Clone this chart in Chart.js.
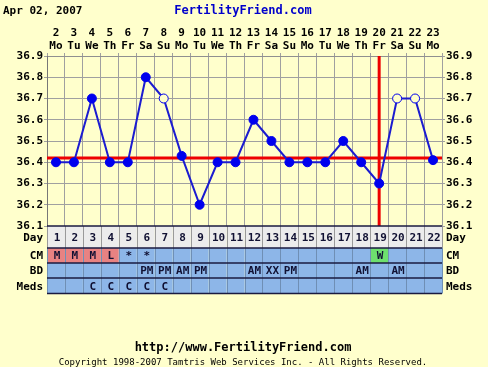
<!DOCTYPE html>
<html>
<head>
<meta charset="utf-8">
<script src="https://cdn.jsdelivr.net/npm/chart.js@4/dist/chart.umd.min.js"></script>
<style>
  html, body { margin: 0; padding: 0; background: #ffffcc; }
  canvas { display: block; }
</style>
</head>
<body>
<canvas id="chart" width="488" height="367"></canvas>
<script>
// chart data
const dates = ["2", "3", "4", "5", "6", "7", "8", "9", "10", "11", "12", "13", "14", "15", "16", "17", "18", "19", "20", "21", "22", "23"];
const weekdays = ["Mo", "Tu", "We", "Th", "Fr", "Sa", "Su", "Mo", "Tu", "We", "Th", "Fr", "Sa", "Su", "Mo", "Tu", "We", "Th", "Fr", "Sa", "Su", "Mo"];
const temps = [36.4, 36.4, 36.7, 36.4, 36.4, 36.8, 36.7, 36.43, 36.2, 36.4, 36.4, 36.6, 36.5, 36.4, 36.4, 36.4, 36.5, 36.4, 36.3, 36.7, 36.7, 36.41];
const openDays = [7, 20, 21];
const coverline = 36.42;
const ovulationDay = 19;
const cm = ["M", "M", "M", "L", "*", "*", "", "", "", "", "", "", "", "", "", "", "", "", "W", "", "", ""];
const bd = ["", "", "", "", "", "PM", "PM", "AM", "PM", "", "", "AM", "XX", "PM", "", "", "", "AM", "", "AM", "", ""];
const meds = ["", "", "C", "C", "C", "C", "C", "", "", "", "", "", "", "", "", "", "", "", "", "", "", ""];

const BG = "#ffffcc";
const FONT = "'DejaVu Sans Mono', monospace";

Chart.defaults.font.family = FONT;
Chart.defaults.font.size = 11;
Chart.defaults.font.weight = "bold";
Chart.defaults.color = "#000";

// background, header, table and footer
const decorations = {
  id: "decorations",
  beforeDraw(chart) {
    const ctx = chart.ctx;
    ctx.save();
    ctx.fillStyle = BG;
    ctx.fillRect(0, 0, chart.width, chart.height);
    ctx.restore();
  },
  afterDraw(chart) {
    const ctx = chart.ctx;
    const x = chart.scales.x;
    const area = chart.chartArea;
    const n = dates.length;
    const colW = (area.right - area.left) / n;
    const rows = [
      { label: "Day", h: 22 },
      { label: "CM", h: 15 },
      { label: "BD", h: 15 },
      { label: "Meds", h: 15.5 },
    ];

    ctx.save();
    ctx.font = "bold 11px " + FONT;
    ctx.textBaseline = "middle";

    // header
    ctx.fillStyle = "#000";
    ctx.textAlign = "left";
    ctx.fillText("Apr 02, 2007", 3, 11);
    ctx.fillStyle = "#0000cc";
    ctx.textAlign = "center";
    ctx.font = "bold 12px " + FONT;
    ctx.fillText("FertilityFriend.com", 243, 11);

    // table
    ctx.font = "bold 11px " + FONT;
    let top = area.bottom;
    rows.forEach((row, r) => {
      const cy = top + row.h / 2;
      for (let i = 0; i < n; i++) {
        const left = area.left + i * colW;
        let fill = r === 0 ? "#ececec" : "#8db6e8";
        if (r === 1 && (cm[i] === "M" || cm[i] === "L")) fill = "#e88282";
        if (r === 1 && cm[i] === "W") fill = "#6ee06e";
        ctx.fillStyle = fill;
        ctx.fillRect(left, top, colW, row.h);
      }
      // column lines
      ctx.strokeStyle = r === 0 ? "#9a9a9a" : "#6f8fb5";
      ctx.lineWidth = 1;
      for (let i = 0; i <= n; i++) {
        const lx = Math.round(area.left + i * colW) + 0.5;
        ctx.beginPath();
        ctx.moveTo(lx, top);
        ctx.lineTo(lx, top + row.h);
        ctx.stroke();
      }
      // cell text
      ctx.fillStyle = "#111133";
      ctx.textAlign = "center";
      for (let i = 0; i < n; i++) {
        const cx = x.getPixelForValue(i) + 1;
        const txt = r === 0 ? String(i + 1) : r === 1 ? cm[i] : r === 2 ? bd[i] : meds[i];
        if (txt) ctx.fillText(txt, cx, cy + 1);
      }
      // row labels
      ctx.fillStyle = "#000";
      ctx.textAlign = "right";
      ctx.fillText(row.label, area.left - 4, cy + 1);
      ctx.textAlign = "left";
      ctx.fillText(row.label, area.right + 4, cy + 1);
      top += row.h;
    });
    // row lines
    ctx.strokeStyle = "#1a1a40";
    ctx.lineWidth = 1.5;
    let ly = area.bottom;
    [0].concat(rows.map((r) => r.h)).forEach((h) => {
      ly += h;
      ctx.beginPath();
      ctx.moveTo(area.left, ly);
      ctx.lineTo(area.right, ly);
      ctx.stroke();
    });

    // footer
    ctx.fillStyle = "#000";
    ctx.textAlign = "center";
    ctx.font = "bold 12px " + FONT;
    ctx.fillText("http://www.FertilityFriend.com", 243, 348);
    ctx.font = "9px " + FONT;
    ctx.fillText("Copyright 1998-2007 Tamtris Web Services Inc. - All Rights Reserved.", 243, 363);
    ctx.restore();
  },
};

const yTicks = {
  stepSize: 0.1,
  padding: 1,
  callback: (v) => Number(v).toFixed(1),
};

new Chart(document.getElementById("chart"), {
  type: "line",
  data: {
    labels: dates,
    datasets: [
      {
        data: temps,
        borderColor: "#1c1cd0",
        borderWidth: 2,
        pointRadius: 4.5,
        pointBorderWidth: 1,
        pointBorderColor: "#0000ee",
        pointBackgroundColor: temps.map((t, i) => (openDays.includes(i + 1) ? BG : "#0000ee")),
        tension: 0,
        order: 0,
      },
      {
        data: [
          { x: 0.5, y: coverline },
          { x: dates.length + 0.5, y: coverline },
        ],
        xAxisID: "xl",
        borderColor: "#ee0000",
        borderWidth: 3,
        pointRadius: 0,
        order: 1,
      },
      {
        data: [
          { x: ovulationDay, y: 36.1 },
          { x: ovulationDay, y: 36.9 },
        ],
        xAxisID: "xl",
        borderColor: "#ee0000",
        borderWidth: 3,
        pointRadius: 0,
        order: 1,
      },
    ],
  },
  options: {
    responsive: false,
    animation: false,
    events: [],
    layout: { padding: { left: 0, right: 0, top: 26, bottom: 141 } },
    plugins: {
      legend: { display: false },
      tooltip: { enabled: false },
    },
    scales: {
      x: {
        position: "top",
        offset: true,
        afterFit: (s) => { s.height = 30; },
        grid: { offset: true, color: "#a0a0a0", tickLength: 3 },
        border: { color: "#909090" },
        ticks: {
          padding: 0,
          maxRotation: 0,
          autoSkip: false,
          font: { lineHeight: "13px" },
          callback: (v, i) => [dates[i], weekdays[i]],
        },
      },
      xl: {
        type: "linear",
        display: false,
        min: 0.5,
        max: dates.length + 0.5,
      },
      y: {
        position: "left",
        min: 36.1,
        max: 36.9,
        afterFit: (s) => { s.width = 47; },
        grid: { color: "#a0a0a0", tickLength: 3 },
        border: { color: "#777" },
        ticks: yTicks,
      },
      y2: {
        position: "right",
        min: 36.1,
        max: 36.9,
        afterFit: (s) => { s.width = 46; },
        grid: { drawOnChartArea: false, color: "#a0a0a0", tickLength: 3 },
        border: { color: "#a0a0a0" },
        ticks: yTicks,
      },
    },
  },
  plugins: [decorations],
});
</script>
</body>
</html>
